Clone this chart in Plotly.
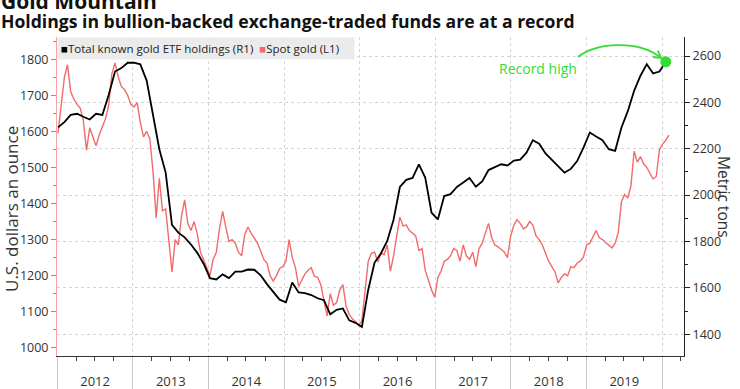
import plotly.graph_objects as go
import pandas as pd

# ---------------- data ----------------
gold_start = "2012-01-05"
gold_step_hours = 367          # ~ two points per month
gold_spot = [
    # 2012
    1595, 1670, 1750, 1785, 1710, 1690, 1675, 1665, 1630, 1548, 1610, 1585,
    1560, 1590, 1612, 1635, 1672, 1760, 1790, 1752, 1725, 1716, 1700, 1675,
    # 2013
    1668, 1680, 1625, 1585, 1600, 1580, 1490, 1360, 1470, 1380, 1385, 1300,
    1210, 1300, 1285, 1365, 1410, 1345, 1325, 1350, 1315, 1265, 1245, 1225,
    # 2014
    1200, 1245, 1265, 1330, 1378, 1335, 1295, 1300, 1290, 1265, 1255, 1315,
    1335, 1318, 1305, 1290, 1268, 1245, 1235, 1200, 1185, 1200, 1220, 1225,
    # 2015
    1240, 1300, 1250, 1222, 1170, 1190, 1205, 1215, 1222, 1198, 1196, 1175,
    1130, 1088, 1150, 1118, 1125, 1160, 1175, 1115, 1092, 1080, 1072, 1062,
    # 2016
    1075, 1160, 1240, 1262, 1265, 1238, 1262, 1258, 1285, 1212, 1255, 1310,
    1362, 1338, 1340, 1325, 1318, 1310, 1270, 1275, 1215, 1185, 1160, 1140,
    # 2017
    1195, 1212, 1240, 1245, 1255, 1275, 1270, 1240, 1285, 1255, 1245, 1265,
    1225, 1275, 1290, 1318, 1345, 1305, 1285, 1280, 1272, 1265, 1250, 1310,
    # 2018
    1340, 1355, 1345, 1330, 1335, 1350, 1340, 1310, 1300, 1285, 1262, 1240,
    1225, 1210, 1180, 1195, 1205, 1200, 1225, 1222, 1235, 1240, 1252, 1285,
    # 2019
    1290, 1310, 1325, 1305, 1300, 1292, 1283, 1277, 1290, 1320, 1405, 1425,
    1415, 1450, 1545, 1515, 1530, 1510, 1500, 1485, 1468, 1475, 1550, 1565,
    # 2020
    1575, 1590,
]

etf_start = "2012-01-05"
etf_step_hours = 734           # ~ one point per month
etf_tons = [
    # 2012
    2292, 2315, 2346, 2351, 2338, 2326, 2351, 2346, 2432, 2533, 2548, 2571,
    # 2013
    2571, 2564, 2494, 2354, 2198, 2097, 1872, 1838, 1818, 1787, 1751, 1704,
    # 2014
    1642, 1636, 1658, 1642, 1670, 1670, 1679, 1678, 1654, 1616, 1584, 1549,
    # 2015
    1538, 1623, 1580, 1577, 1569, 1555, 1547, 1486, 1505, 1511, 1460, 1449,
    # 2016
    1431, 1592, 1709, 1748, 1802, 1894, 2035, 2066, 2074, 2133, 2076, 1924,
    # 2017
    1895, 1996, 2004, 2035, 2054, 2074, 2036, 2059, 2108, 2121, 2133, 2128,
    # 2018
    2149, 2153, 2183, 2237, 2222, 2180, 2153, 2125, 2097, 2113, 2147, 2205,
    # 2019
    2270, 2253, 2237, 2198, 2191, 2292, 2362, 2450, 2515, 2565, 2525, 2533,
    # 2020
    2575,
]

gold_dates = pd.date_range(gold_start, periods=len(gold_spot),
                           freq=pd.Timedelta(hours=gold_step_hours))
etf_dates = pd.date_range(etf_start, periods=len(etf_tons),
                          freq=pd.Timedelta(hours=etf_step_hours))

RED = "#f26b6b"
GREEN = "#33dd33"
FONT = "Open Sans"

# plot-area geometry (pixels) used only for placing decorations
W, H = 740, 389
L, R, T, B = 57, 56, 37, 33
PW, PH = W - L - R, H - T - B


def px(x):
    return (x - L) / PW


def py(y):
    return (H - B - y) / PH


fig = go.Figure()
fig.add_trace(go.Scatter(x=gold_dates, y=gold_spot, mode="lines",
                         line=dict(color=RED, width=1.4), yaxis="y",
                         name="Spot gold (L1)", hoverinfo="skip"))
fig.add_trace(go.Scatter(x=etf_dates, y=etf_tons, mode="lines",
                         line=dict(color="black", width=1.8), yaxis="y2",
                         name="Total known gold ETF holdings (R1)",
                         hoverinfo="skip"))
imax = max(range(len(etf_tons)), key=lambda i: etf_tons[i])
fig.add_trace(go.Scatter(x=[etf_dates[imax]], y=[etf_tons[imax]],
                         mode="markers", marker=dict(color=GREEN, size=11),
                         yaxis="y2", hoverinfo="skip"))

fig.update_layout(
    width=W, height=H,
    margin=dict(l=L, r=R, t=T, b=B, pad=0, autoexpand=False),
    paper_bgcolor="white", plot_bgcolor="white",
    showlegend=False,
    font=dict(family=FONT, size=12.5, color="#333"),
    xaxis=dict(
        type="date", range=["2011-12-31", "2020-04-16"], automargin=False,
        tick0="2012-01-01", dtick="M12", tickformat="%Y",
        ticklabelmode="period", ticks="outside", ticklen=33,
        tickcolor="#c8c8c8", tickwidth=1, ticklabelstandoff=-20,
        tickfont=dict(size=13, color="#333"),
        showgrid=True, gridcolor="#d4d4d4", griddash="dot",
        showline=True, linecolor="#333", linewidth=1, zeroline=False,
        minor=dict(tick0="2012-01-01", dtick="M3", ticks="outside",
                   ticklen=4, tickcolor="#444", showgrid=False),
    ),
    yaxis=dict(
        range=[977, 1862], tick0=1000, dtick=100, automargin=False,
        ticks="outside", ticklen=5, tickcolor=RED,
        showline=True, linecolor="#f5a3a3", showgrid=False, zeroline=False,
        tickfont=dict(size=12.5, color="#333"),
        minor=dict(dtick=50, ticks="outside", ticklen=3, tickcolor=RED),
    ),
    yaxis2=dict(
        overlaying="y", side="right", range=[1306, 2682], automargin=False,
        tick0=1400, dtick=200, ticks="outside", ticklen=5,
        tickcolor="#222", showline=True, linecolor="#222",
        showgrid=True, gridcolor="#d4d4d4", griddash="dot", zeroline=False,
        tickfont=dict(size=12.5, color="#333"),
        minor=dict(dtick=100, ticks="outside", ticklen=3, tickcolor="#222"),
    ),
)

ann = []
ann.append(dict(xref="paper", yref="paper", x=px(-1), y=py(1),
                xanchor="left", yanchor="middle", showarrow=False,
                text="<b>Gold Mountain</b>",
                font=dict(size=21, color="#111", family=FONT)))
ann.append(dict(xref="paper", yref="paper", x=px(-1), y=py(21),
                xanchor="left", yanchor="middle", showarrow=False,
                text="<b>Holdings in bullion-backed exchange-traded funds are at a record</b>",
                font=dict(size=17.6, color="#111", family=FONT)))
ann.append(dict(xref="paper", yref="paper", x=0, y=1,
                xanchor="left", yanchor="top", showarrow=False,
                bgcolor="#ebebeb", borderpad=3, align="left",
                text=("<span style='color:#000'>■</span>Total known gold ETF holdings (R1)"
                      "  <span style='color:" + RED + "'>■</span>Spot gold (L1)    "),
                font=dict(size=11.5, color="#222", family=FONT)))
ann.append(dict(xref="paper", yref="paper", x=px(12), y=py(209),
                xanchor="center", yanchor="middle", showarrow=False,
                textangle=-90, text="U.S. dollars an ounce",
                font=dict(size=17, color="#333", family=FONT)))
ann.append(dict(xref="paper", yref="paper", x=px(724), y=py(197),
                xanchor="center", yanchor="middle", showarrow=False,
                textangle=90, text="Metric tons",
                font=dict(size=15.5, color="#333", family=FONT)))
ann.append(dict(xref="paper", yref="paper", x=px(579), y=py(69),
                xanchor="right", yanchor="middle", showarrow=False,
                text="Record high",
                font=dict(size=14, color=GREEN, family=FONT)))
fig.update_layout(annotations=ann)

curve = (f"M {px(578)},{py(57)} C {px(595)},{py(42)} {px(640)},{py(40)} "
         f"{px(661)},{py(58)}")
head = (f"M {px(657.9)},{py(50.6)} L {px(661)},{py(58)} L {px(653.1)},{py(57)}")
fig.update_layout(shapes=[
    dict(type="path", xref="paper", yref="paper", path=curve,
         line=dict(color=GREEN, width=1.8)),
    dict(type="path", xref="paper", yref="paper", path=head,
         line=dict(color=GREEN, width=1.8)),
])

fig.write_html("out.html", config={"displayModeBar": False},
               post_script="document.body.style.margin='0px';")
